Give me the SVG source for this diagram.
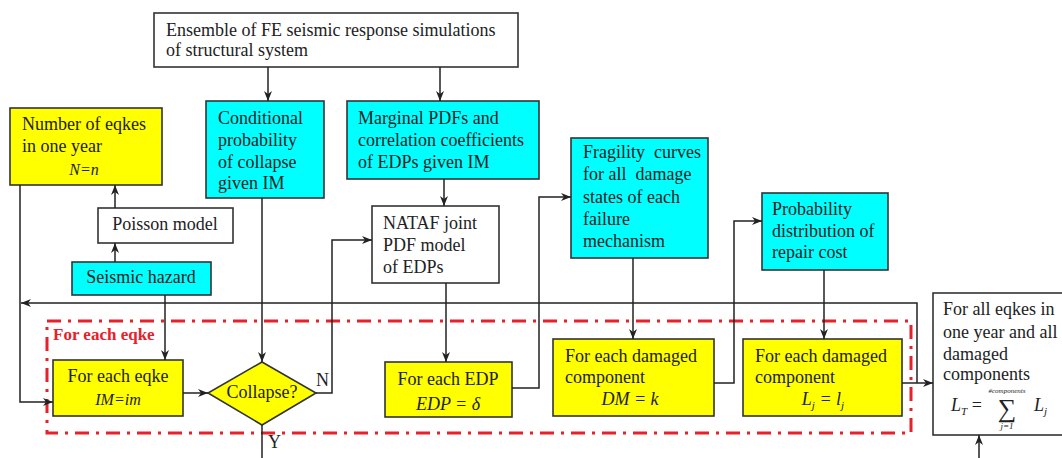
<svg xmlns="http://www.w3.org/2000/svg" width="1062" height="458" viewBox="0 0 1062 458">
<defs>
<marker id="ah" markerWidth="10" markerHeight="8" refX="10" refY="4" orient="auto" markerUnits="userSpaceOnUse">
<path d="M0,0 L10,4 L0,8 L3,4 z" fill="#222"/>
</marker>
<style>
.box{stroke:#333;stroke-width:1.6}
.y{fill:#ffff00}
.c{fill:#00ffff}
.w{fill:#ffffff}
text{font-family:"Liberation Serif","Times New Roman",serif;font-size:18px;fill:#222}
.m{text-anchor:middle}
.i{font-style:italic}
.con path,.con line{fill:none;stroke:#222;stroke-width:1.5}
.arr{marker-end:url(#ah)}
</style>
</defs>
<rect width="1062" height="458" fill="#fff"/>

<!-- dash-dot loop region -->
<g id="loop">
<rect x="47" y="321" width="864" height="112" fill="none" stroke="#e8202a" stroke-width="3" stroke-dasharray="14 7 3 7"/>
<text x="53" y="340" style="fill:#e8202a;font-weight:bold;font-size:17px">For each eqke</text>
</g>

<g id="n-ensemble">
<rect class="box w" x="154" y="13" width="364" height="54"/>
<text x="166" y="36">Ensemble of FE seismic response simulations</text>
<text x="166" y="56">of structural system</text>
</g>

<g id="n-number">
<rect class="box y" x="10" y="108" width="152" height="77"/>
<text x="22" y="130">Number of eqkes</text>
<text x="22" y="152">in one year</text>
<text x="84" y="175" class="m i" style="font-size:16px">N=n</text>
</g>

<g id="n-poisson">
<rect class="box w" x="98" y="208" width="135" height="35"/>
<text x="165" y="230" class="m">Poisson model</text>
</g>

<g id="n-hazard">
<rect class="box c" x="72" y="262" width="139" height="33"/>
<text x="141" y="283" class="m">Seismic hazard</text>
</g>

<g id="n-conditional">
<rect class="box c" x="206" y="101" width="118" height="97"/>
<text x="218" y="124">Conditional</text>
<text x="218" y="146">probability</text>
<text x="218" y="168">of collapse</text>
<text x="218" y="189">given IM</text>
</g>

<g id="n-marginal">
<rect class="box c" x="347" y="101" width="192" height="78"/>
<text x="358" y="124">Marginal PDFs and</text>
<text x="358" y="146">correlation coefficients</text>
<text x="358" y="168">of EDPs given IM</text>
</g>

<g id="n-nataf">
<rect class="box w" x="372" y="206" width="127" height="77"/>
<text x="383" y="229">NATAF joint</text>
<text x="383" y="251">PDF model</text>
<text x="383" y="273">of EDPs</text>
</g>

<g id="n-fragility">
<rect class="box c" x="571" y="138" width="137" height="120"/>
<text x="583" y="158" xml:space="preserve">Fragility  curves</text>
<text x="583" y="180" xml:space="preserve">for all  damage</text>
<text x="583" y="203">states of each</text>
<text x="583" y="225">failure</text>
<text x="583" y="247">mechanism</text>
</g>

<g id="n-probability">
<rect class="box c" x="762" y="193" width="126" height="77"/>
<text x="772" y="215">Probability</text>
<text x="772" y="237">distribution of</text>
<text x="772" y="258">repair cost</text>
</g>

<g id="n-eqke">
<rect class="box y" x="53" y="360" width="130" height="56"/>
<text x="118" y="382" class="m">For each eqke</text>
<text x="118" y="405" class="m i" style="font-size:16px">IM=im</text>
</g>

<g id="n-collapse">
<polygon class="box y" points="262,362 316,393 262,425 208,393"/>
<text x="262" y="398" class="m">Collapse?</text>
</g>

<g id="n-edp">
<rect class="box y" x="385" y="362" width="127" height="55"/>
<text x="448" y="385" class="m">For each EDP</text>
<text x="448" y="410" class="m i">EDP = δ</text>
</g>

<g id="n-comp1">
<rect class="box y" x="553" y="339" width="161" height="77"/>
<text x="565" y="362">For each damaged</text>
<text x="565" y="383">component</text>
<text x="630" y="405" class="m i">DM = k</text>
</g>

<g id="n-comp2">
<rect class="box y" x="743" y="339" width="159" height="77"/>
<text x="755" y="362">For each damaged</text>
<text x="755" y="383">component</text>
<text x="823" y="405" class="m i">L<tspan dy="4" font-size="11">j</tspan><tspan dy="-4"> = l</tspan><tspan dy="4" font-size="11">j</tspan></text>
</g>

<g id="n-total">
<rect class="box w" x="933" y="293" width="140" height="142"/>
<text x="943" y="315">For all eqkes in</text>
<text x="943" y="338">one year and all</text>
<text x="943" y="360">damaged</text>
<text x="943" y="380">components</text>
<text x="951" y="411" class="i">L<tspan dy="4" font-size="11">T</tspan><tspan dy="-4" style="font-style:normal"> =</tspan></text>
<text x="1007" y="393" class="m i" style="font-size:7px">#components</text>
<text x="1007" y="417" class="m" style="font-size:26px">∑</text>
<text x="1007" y="429" class="m i" style="font-size:9px">j=1</text>
<text x="1034" y="411" class="i">L<tspan dy="4" font-size="11">j</tspan></text>
</g>

<g id="connectors" class="con">
<line class="arr" x1="268" y1="67" x2="268" y2="101"/>
<line class="arr" x1="440" y1="67" x2="440" y2="101"/>
<line class="arr" x1="115" y1="262" x2="115" y2="243"/>
<line class="arr" x1="115" y1="208" x2="115" y2="185"/>
<line class="arr" x1="165" y1="295" x2="165" y2="360"/>
<path class="arr" d="M20,185 V402 H53"/>
<line class="arr" x1="183" y1="393" x2="208" y2="393"/>
<line class="arr" x1="262" y1="198" x2="262" y2="362"/>
<path class="arr" d="M316,393 H332 V240 H372"/>
<line x1="262" y1="425" x2="262" y2="458"/>
<line class="arr" x1="444" y1="179" x2="444" y2="206"/>
<line class="arr" x1="446" y1="283" x2="446" y2="362"/>
<path class="arr" d="M512,388 H539 V197 H571"/>
<line class="arr" x1="633" y1="258" x2="633" y2="339"/>
<path class="arr" d="M714,383 H734 V221 H762"/>
<line class="arr" x1="824" y1="270" x2="824" y2="339"/>
<line class="arr" x1="902" y1="383" x2="933" y2="383"/>
<path class="arr" d="M917,383 V303 H21"/>
<line class="arr" x1="979" y1="458" x2="979" y2="435"/>
</g>
<text x="316" y="386">N</text>
<text x="268" y="448">Y</text>
</svg>
